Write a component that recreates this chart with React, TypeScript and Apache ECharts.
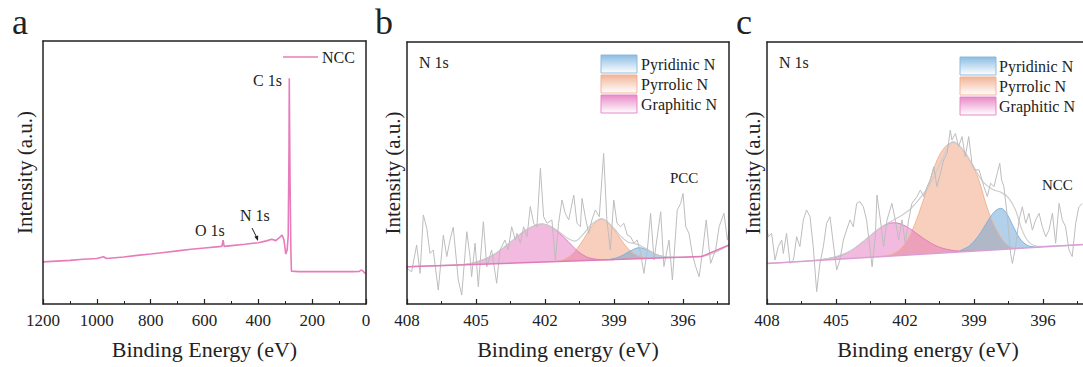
import React, { useEffect, useRef } from "react";
import * as echarts from "echarts";

type Pt = [number, number];

const FONT = '"Liberation Serif", "Times New Roman", Times, serif';
const INK = "#222222";

// ---------- Panel a: survey spectrum (binding energy eV, intensity a.u.) ----------
const SURVEY_NCC: Pt[] = [
  [1200, 16.0], [1150, 16.3], [1100, 16.6], [1050, 17.0], [1000, 17.3], [975, 18.0], [965, 17.3],
  [900, 17.9], [850, 18.5], [800, 19.0], [750, 19.6], [700, 20.2], [650, 20.8], [600, 21.3],
  [545, 21.8], [535, 22.0], [531, 24.3], [527, 21.9], [500, 22.2], [450, 22.7], [420, 23.1],
  [400, 23.3], [370, 24.0], [350, 24.6], [335, 24.1], [322, 25.2], [312, 26.2], [305, 24.5],
  [298, 19.0], [293, 20.5], [289, 26.0], [286, 60.0], [285, 85.8], [284, 70.0], [282, 45.0],
  [279, 20.0], [277, 12.5], [250, 12.3], [200, 12.3], [150, 12.3], [100, 12.3], [50, 12.3],
  [25, 12.4], [18, 12.9], [12, 12.6], [5, 11.8], [0, 11.8],
];

// ---------- N 1s panels ----------
const N1S_TICKS = [408, 405, 402, 399, 396];
const N1S_MINOR_TICKS = [406.5, 403.5, 400.5, 397.5, 394.5];
const COMPONENT_NAMES = ["Pyridinic N", "Pyrrolic N", "Graphitic N"];

// Panel b (PCC)
const RAW_B: Pt[] = [
  [408.0, 13.6], [407.8, 12.3], [407.58, 22.5], [407.43, 11.7], [407.29, 34.0], [407.14, 28.9],
  [407.0, 19.3], [406.86, 20.6], [406.64, 5.3], [406.42, 26.3], [406.27, 18.1], [406.13, 24.4],
  [405.99, 29.3], [405.77, 9.2], [405.62, 3.4], [405.4, 27.6], [405.26, 18.1], [405.19, 10.4],
  [405.04, 23.2], [404.9, 6.6], [404.68, 31.4], [404.53, 14.2], [404.32, 20.6], [404.1, 7.9],
  [403.96, 20.6], [403.74, 24.4], [403.6, 20.6], [403.45, 29.5], [403.29, 24.4], [403.22, 27.0],
  [403.07, 23.2], [402.93, 29.5], [402.78, 25.7], [402.64, 37.2], [402.49, 30.8], [402.35, 29.5],
  [402.2, 51.8], [402.06, 33.3], [401.91, 30.8], [401.7, 32.1], [401.55, 16.8], [401.41, 30.8],
  [401.26, 39.7], [401.12, 34.6], [400.97, 32.1], [400.75, 41.6], [400.61, 30.8], [400.46, 29.5],
  [400.39, 40.3], [400.25, 33.3], [400.1, 27.0], [399.96, 32.1], [399.81, 35.9], [399.64, 33.3],
  [399.45, 57.5], [399.31, 32.1], [399.16, 20.6], [399.01, 39.7], [398.87, 30.8], [398.72, 29.5],
  [398.57, 30.8], [398.42, 26.3], [398.28, 25.7], [398.13, 23.2], [397.99, 24.4], [397.84, 19.3],
  [397.7, 11.7], [397.55, 20.6], [397.41, 34.6], [397.26, 16.8], [396.97, 35.2], [396.83, 14.3],
  [396.61, 24.4], [396.46, 9.2], [396.25, 35.9], [396.1, 38.4], [396.0, 42.2], [395.88, 29.5],
  [395.74, 27.0], [395.6, 19.3], [395.45, 14.3], [395.3, 10.4], [395.16, 19.3], [394.99, 32.1],
  [394.8, 15.5], [394.58, 20.6], [394.43, 29.5], [394.22, 34.6], [394.07, 24.4], [394.0, 28.0],
];
const BASE_B: Pt[] = [[408, 14.2], [395.2, 18.1], [394, 22.5]];
const PYRIDINIC_B: Pt[] = [
  [399.2, 17.0], [398.9, 17.6], [398.6, 18.7], [398.3, 20.2], [397.9, 21.5], [397.5, 20.4],
  [397.2, 19.1], [396.9, 18.2], [396.6, 17.8], [396.3, 17.8],
];
const PYRROLIC_B: Pt[] = [
  [401.5, 16.3], [401.2, 16.9], [400.9, 18.5], [400.6, 21.2], [400.3, 25.0], [400.0, 29.3],
  [399.78, 31.3], [399.54, 32.3], [399.3, 31.4], [399.0, 28.4], [398.7, 24.6], [398.4, 21.2],
  [398.1, 19.1], [397.8, 17.9], [397.5, 17.5],
];
const GRAPHITIC_B: Pt[] = [
  [405.6, 15.0], [405.2, 15.5], [404.8, 16.5], [404.4, 18.0], [404.0, 20.1], [403.6, 22.9],
  [403.2, 25.8], [402.8, 28.4], [402.4, 30.1], [402.14, 30.5], [401.8, 29.8], [401.4, 27.2],
  [401.0, 23.9], [400.6, 20.3], [400.2, 18.0], [399.8, 17.1], [399.4, 16.9], [399.0, 16.9],
];
const ENVELOPE_B: Pt[] = [
  [408, 14.2], [405.6, 15.0], [405.2, 15.5], [404.4, 18.0], [403.6, 22.9], [402.8, 28.4],
  [402.14, 30.5], [401.8, 29.8], [401.4, 27.6], [401.0, 25.0], [400.7, 24.0], [400.3, 27.0],
  [400.0, 30.2], [399.54, 32.6], [399.0, 28.8], [398.7, 25.8], [398.4, 23.7], [398.1, 23.0],
  [397.9, 22.5], [397.5, 20.6], [397.2, 19.1], [396.9, 18.2], [396.3, 17.8], [395.2, 18.1], [394, 22.5],
];

// Panel c (NCC)
const RAW_C: Pt[] = [
  [408.0, 28.2], [407.94, 25.7], [407.8, 27.0], [407.65, 16.8], [407.51, 21.9], [407.36, 24.4],
  [407.29, 19.3], [407.15, 27.0], [407.0, 15.5], [406.85, 16.8], [406.71, 25.7], [406.57, 21.9],
  [406.42, 32.1], [406.28, 35.9], [406.13, 33.3], [405.99, 21.9], [405.84, 4.7], [405.7, 15.5],
  [405.55, 21.9], [405.41, 30.8], [405.26, 33.3], [405.12, 23.2], [404.97, 13.0], [404.83, 16.8],
  [404.68, 24.4], [404.54, 28.2], [404.39, 32.1], [404.25, 29.5], [404.1, 38.4], [403.96, 39.1],
  [403.81, 37.1], [403.67, 32.1], [403.43, 14.2], [403.29, 25.7], [403.22, 41.6], [403.07, 32.1],
  [402.93, 21.9], [402.78, 32.1], [402.57, 38.4], [402.42, 32.1], [402.28, 24.4], [402.13, 32.1],
  [401.99, 23.2], [401.84, 32.1], [401.7, 38.4], [401.48, 41.0], [401.33, 43.5], [401.19, 41.0],
  [401.04, 44.8], [400.9, 47.3], [400.75, 52.4], [400.61, 44.8], [400.46, 49.9], [400.32, 55.0],
  [400.17, 57.5], [400.03, 66.4], [399.96, 62.6], [399.81, 65.1], [399.67, 60.1], [399.52, 63.9],
  [399.38, 56.2], [399.23, 63.9], [399.09, 53.7], [398.94, 51.2], [398.78, 51.2], [398.57, 44.8],
  [398.42, 41.0], [398.28, 46.1], [398.13, 44.8], [397.99, 49.9], [397.88, 53.7], [397.8, 47.3],
  [397.7, 44.8], [397.55, 33.3], [397.41, 19.3], [397.33, 15.5], [397.19, 21.9], [397.04, 32.1],
  [396.9, 37.1], [396.75, 30.8], [396.61, 34.6], [396.46, 28.2], [396.32, 32.1], [396.17, 34.6],
  [396.03, 29.5], [395.88, 25.7], [395.74, 28.2], [395.59, 34.6], [395.45, 23.2], [395.3, 38.4],
  [395.16, 32.1], [395.02, 29.5], [394.87, 20.6], [394.73, 18.1], [394.58, 30.8], [394.44, 37.1],
  [394.29, 38.4],
];
const BASE_C: Pt[] = [[408, 15.5], [394, 22.8]];
const PYRIDINIC_C: Pt[] = [
  [399.6, 20.4], [399.2, 22.2], [398.8, 26.1], [398.4, 31.7], [398.1, 35.3], [397.84, 36.5],
  [397.6, 34.8], [397.3, 29.7], [397.0, 24.9], [396.7, 22.5], [396.4, 21.8], [396.1, 21.7],
];
const PYRROLIC_C: Pt[] = [
  [403.0, 18.1], [402.6, 18.9], [402.2, 21.0], [401.8, 26.0], [401.4, 34.5], [401.0, 45.0],
  [400.6, 55.0], [400.25, 60.0], [399.9, 61.6], [399.55, 59.5], [399.2, 55.0], [398.8, 47.5],
  [398.4, 36.0], [398.0, 28.0], [397.6, 23.0], [397.2, 21.4], [396.8, 21.4],
];
const GRAPHITIC_C: Pt[] = [
  [405.6, 17.0], [405.2, 17.6], [404.8, 18.5], [404.4, 20.1], [404.0, 22.5], [403.6, 25.4],
  [403.2, 28.3], [402.8, 30.4], [402.51, 31.0], [402.2, 30.6], [401.8, 28.8], [401.4, 26.3],
  [401.0, 23.9], [400.6, 22.0], [400.2, 20.9], [399.8, 20.3], [399.4, 20.2], [399.0, 20.2],
];
const ENVELOPE_C: Pt[] = [
  [408, 15.5], [406.0, 16.6], [405.2, 17.6], [404.4, 20.1], [403.6, 25.4], [403.0, 29.6],
  [402.4, 32.5], [401.8, 36.0], [401.2, 42.0], [400.8, 47.5], [400.4, 55.0], [399.9, 62.0],
  [399.4, 58.0], [399.0, 52.0], [398.6, 46.5], [398.2, 43.8], [397.8, 42.5], [397.5, 40.5],
  [397.2, 36.0], [396.9, 28.0], [396.6, 23.5], [396.2, 22.0], [395.0, 22.3], [394, 22.8],
];

// ---------- styling ----------
const C_BLUE = "#86b9e0";
const C_ORANGE = "#f2b092";
const C_PINK = "#e784c4";
const LEGEND_COLORS = [C_BLUE, C_ORANGE, C_PINK];

const lineSty = { color: INK, width: 1.5 };
const nameStyle = { fontFamily: FONT, fontSize: 22, color: INK };
const yNameStyle = { fontFamily: FONT, fontSize: 21, color: INK };
const plainNum = (v: number) => String(v);

function frameX(gridIndex: number, min: number, max: number) {
  return {
    gridIndex, type: "value", position: "top", min, max, inverse: true, z: 10,
    axisLine: { show: true, onZero: false, lineStyle: lineSty },
    axisTick: { show: false }, axisLabel: { show: false }, splitLine: { show: false },
  };
}
function yLeft(gridIndex: number, gap: number) {
  return {
    gridIndex, type: "value", min: 0, max: 100, z: 10,
    axisLine: { show: true, onZero: false, lineStyle: lineSty },
    axisTick: { show: false }, axisLabel: { show: false }, splitLine: { show: false },
    name: "Intensity (a.u.)", nameLocation: "middle", nameGap: gap, nameTextStyle: yNameStyle,
  };
}
function yRight(gridIndex: number) {
  return {
    gridIndex, type: "value", position: "right", min: 0, max: 100, z: 10,
    axisLine: { show: true, onZero: false, lineStyle: lineSty },
    axisTick: { show: false }, axisLabel: { show: false }, splitLine: { show: false },
  };
}
function n1sMainX(gridIndex: number) {
  return {
    gridIndex, type: "value", min: 394, max: 408, inverse: true, z: 10,
    axisLine: { show: true, onZero: false, lineStyle: lineSty },
    axisTick: { show: true, inside: true, length: 5, customValues: N1S_TICKS, lineStyle: { color: INK, width: 1.2 } },
    axisLabel: { customValues: N1S_TICKS, formatter: plainNum, fontFamily: FONT, fontSize: 17, color: INK, margin: 8 },
    splitLine: { show: false },
    name: "Binding energy (eV)", nameLocation: "middle", nameGap: 34, nameTextStyle: nameStyle,
  };
}
function n1sMinorX(gridIndex: number) {
  return {
    gridIndex, type: "value", min: 394, max: 408, inverse: true, z: 10, position: "bottom",
    axisLine: { show: false },
    axisTick: { show: true, inside: true, length: 3, customValues: N1S_MINOR_TICKS, lineStyle: { color: INK, width: 1 } },
    axisLabel: { show: false }, splitLine: { show: false },
  };
}

function n1sSeries(
  xi: number, yi: number, raw: Pt[], base: Pt[], env: Pt[],
  pyridinic: Pt[], pyrrolic: Pt[], graphitic: Pt[], baseColor: string,
) {
  const common = { type: "line", xAxisIndex: xi, yAxisIndex: yi, symbol: "none", silent: true };
  return [
    { ...common, name: COMPONENT_NAMES[1], data: pyrrolic, smooth: 0.35,
      lineStyle: { color: "#efb497", width: 1 }, areaStyle: { color: "rgba(241,160,124,0.72)" } },
    { ...common, name: COMPONENT_NAMES[2], data: graphitic, smooth: 0.35,
      lineStyle: { color: "#e07cbd", width: 1 }, areaStyle: { color: "rgba(224,106,184,0.66)" } },
    { ...common, name: COMPONENT_NAMES[0], data: pyridinic, smooth: 0.35,
      lineStyle: { color: "#7fb1da", width: 1 }, areaStyle: { color: "rgba(92,156,212,0.66)" } },
    { ...common, name: "mask", data: base, lineStyle: { width: 0, color: "#fff" },
      areaStyle: { color: "#ffffff", opacity: 1 } },
    { ...common, name: "envelope", data: env, smooth: 0.35, lineStyle: { color: "#cdcdcd", width: 1.2 } },
    { ...common, name: "raw", data: raw, lineStyle: { color: "#bdbdbd", width: 1 } },
    { ...common, name: "background", data: base, lineStyle: { color: baseColor, width: 1.5 } },
  ];
}

function txt(x: number, y: number, text: string, size: number) {
  return {
    type: "text", x, y, silent: true, z: 50,
    style: { text, fontFamily: FONT, fontSize: size, fill: INK, align: "left", verticalAlign: "middle" },
  };
}
function legendBlock(boxX: number, boxY: number, textX: number) {
  const out: any[] = [];
  COMPONENT_NAMES.forEach((n, i) => {
    out.push({
      type: "rect", z: 50, silent: true,
      shape: { x: boxX, y: boxY + i * 20, width: 36, height: 18 },
      style: {
        fill: new echarts.graphic.LinearGradient(0, 0, 0, 1, [
          { offset: 0, color: LEGEND_COLORS[i] },
          { offset: 1, color: "#ffffff" },
        ]),
        stroke: LEGEND_COLORS[i], lineWidth: 1, opacity: 0.95,
      },
    });
    out.push(txt(textX, boxY + 9 + i * 20, n, 16));
  });
  return out;
}

export default function App() {
  const ref = useRef<HTMLDivElement>(null);

  useEffect(() => {
    if (!ref.current) return;
    const chart = echarts.init(ref.current, null, { renderer: "svg" });

    const option: any = {
      animation: false,
      backgroundColor: "#ffffff",
      grid: [
        { left: 43, top: 41, width: 323, height: 263, outerBoundsMode: "none", containLabel: false },
        { left: 407, top: 42, width: 322, height: 262, outerBoundsMode: "none", containLabel: false },
        { left: 767, top: 42, width: 322, height: 262, outerBoundsMode: "none", containLabel: false },
      ],
      xAxis: [
        {
          gridIndex: 0, type: "value", min: 0, max: 1200, interval: 200, inverse: true, z: 10,
          axisLine: { show: true, onZero: false, lineStyle: lineSty },
          axisTick: { show: true, inside: true, length: 5, lineStyle: { color: INK, width: 1.2 } },
          minorTick: { show: true, splitNumber: 2, length: 3, lineStyle: { color: INK, width: 1 } },
          axisLabel: { formatter: plainNum, fontFamily: FONT, fontSize: 17, color: INK, margin: 8 },
          splitLine: { show: false }, minorSplitLine: { show: false },
          name: "Binding Energy (eV)", nameLocation: "middle", nameGap: 34, nameTextStyle: nameStyle,
        },
        frameX(0, 0, 1200),
        n1sMainX(1),
        n1sMinorX(1),
        frameX(1, 394, 408),
        n1sMainX(2),
        n1sMinorX(2),
        frameX(2, 394, 408),
      ],
      yAxis: [yLeft(0, 8), yRight(0), yLeft(1, 4), yRight(1), yLeft(2, 4), yRight(2)],
      series: [
        {
          type: "line", name: "NCC", xAxisIndex: 0, yAxisIndex: 0, data: SURVEY_NCC,
          symbol: "none", silent: true, lineStyle: { color: "#e77bbb", width: 1.6 },
        },
        ...n1sSeries(2, 2, RAW_B, BASE_B, ENVELOPE_B, PYRIDINIC_B, PYRROLIC_B, GRAPHITIC_B, "#e07ab8"),
        ...n1sSeries(5, 4, RAW_C, BASE_C, ENVELOPE_C, PYRIDINIC_C, PYRROLIC_C, GRAPHITIC_C, "#d8a0d4"),
      ],
      graphic: [
        // panel letters
        txt(12, 22, "a", 36),
        txt(375, 22, "b", 36),
        txt(736, 22, "c", 36),
        // panel a legend + annotations
        { type: "line", z: 50, silent: true, shape: { x1: 283, y1: 57, x2: 318, y2: 57 },
          style: { stroke: "#e77bbb", lineWidth: 1.5 } },
        txt(322, 57, "NCC", 16),
        txt(253, 80, "C 1s", 16),
        txt(195, 230, "O 1s", 16),
        txt(240, 215, "N 1s", 16),
        { type: "line", z: 50, silent: true, shape: { x1: 252, y1: 228, x2: 256.5, y2: 237 },
          style: { stroke: INK, lineWidth: 1 } },
        { type: "polygon", z: 50, silent: true,
          shape: { points: [[258, 241], [254.3, 236.8], [258.2, 235.5]] }, style: { fill: INK } },
        // panel b
        txt(419, 62, "N 1s", 16),
        txt(670, 178, "PCC", 15),
        ...legendBlock(601, 55, 641),
        // panel c
        txt(779, 62, "N 1s", 16),
        txt(1042, 185, "NCC", 15),
        ...legendBlock(960, 57, 999),
      ],
    };

    chart.setOption(option);
    return () => chart.dispose();
  }, []);

  return (
    <div
      ref={ref}
      style={{ position: "fixed", left: 0, top: 0, width: 1083, height: 367, background: "#ffffff" }}
    />
  );
}
